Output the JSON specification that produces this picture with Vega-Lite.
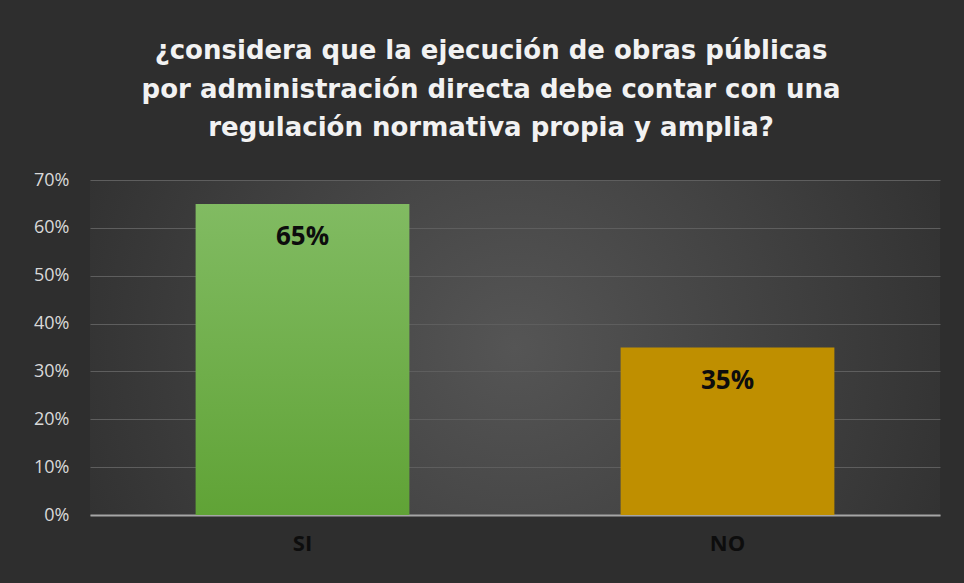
{
  "$schema": "https://vega.github.io/schema/vega-lite/v6.json",
  "autosize": {"type": "none"},
  "width": 850,
  "height": 335,
  "padding": {"left": 90, "top": 180, "right": 24, "bottom": 68},
  "background": "#2e2e2e",
  "title": {
    "text": ["¿considera que la ejecución de obras públicas", "por administración directa debe contar con una", "regulación normativa propia y amplia?"],
    "anchor": "middle",
    "frame": "group",
    "dx": -24,
    "offset": 30,
    "font": "DejaVu Sans",
    "fontSize": 26,
    "fontWeight": "bold",
    "color": "#f2f2f2",
    "lineHeight": 38.5
  },
  "data": {"values": [
    {"respuesta": "SI", "porcentaje": 0.65},
    {"respuesta": "NO", "porcentaje": 0.35}
  ]},
  "encoding": {
    "x": {
      "field": "respuesta", "type": "nominal", "sort": ["SI", "NO"],
      "scale": {"paddingInner": 0.497, "paddingOuter": 0.2485},
      "axis": {
        "title": null, "labelAngle": 0, "ticks": false,
        "domainColor": "#a6a6a6", "domainWidth": 2,
        "labelFont": "Open Sans", "labelFontSize": 22, "labelFontWeight": "bold",
        "labelColor": "#0d0d0d", "labelPadding": 18
      }
    },
    "y": {
      "field": "porcentaje", "type": "quantitative",
      "scale": {"domain": [0, 0.7], "nice": false},
      "axis": {
        "title": null, "format": ".0%", "values": [0, 0.1, 0.2, 0.3, 0.4, 0.5, 0.6, 0.7],
        "domain": false, "ticks": false, "grid": true,
        "gridColor": "#5e5e5e", "gridWidth": 1,
        "labelFont": "Open Sans", "labelFontSize": 18, "labelColor": "#d9d9d9",
        "labelPadding": 21
      }
    }
  },
  "layer": [
    {
      "transform": [{"filter": "datum.respuesta === 'SI'"}],
      "mark": {"type": "bar", "fill": {"gradient": "linear", "x1": 0, "y1": 0, "x2": 0, "y2": 1, "stops": [{"offset": 0, "color": "#81bb62"}, {"offset": 1, "color": "#60a336"}]}}
    },
    {
      "transform": [{"filter": "datum.respuesta === 'NO'"}],
      "mark": {"type": "bar", "fill": "#bf8f00"}
    },
    {
      "mark": {"type": "text", "font": "Open Sans", "fontSize": 26, "fontWeight": "bold", "color": "#0d0d0d", "baseline": "middle", "dy": 33},
      "encoding": {"text": {"field": "porcentaje", "type": "quantitative", "format": ".0%"}}
    }
  ],
  "config": {
    "view": {
      "stroke": null,
      "fill": {"gradient": "radial", "x1": 0.5, "y1": 0.5, "r1": 0, "x2": 0.5, "y2": 0.5, "r2": 0.6, "stops": [{"offset": 0, "color": "#555555"}, {"offset": 1, "color": "#2e2e2e"}]}
    }
  }
}
